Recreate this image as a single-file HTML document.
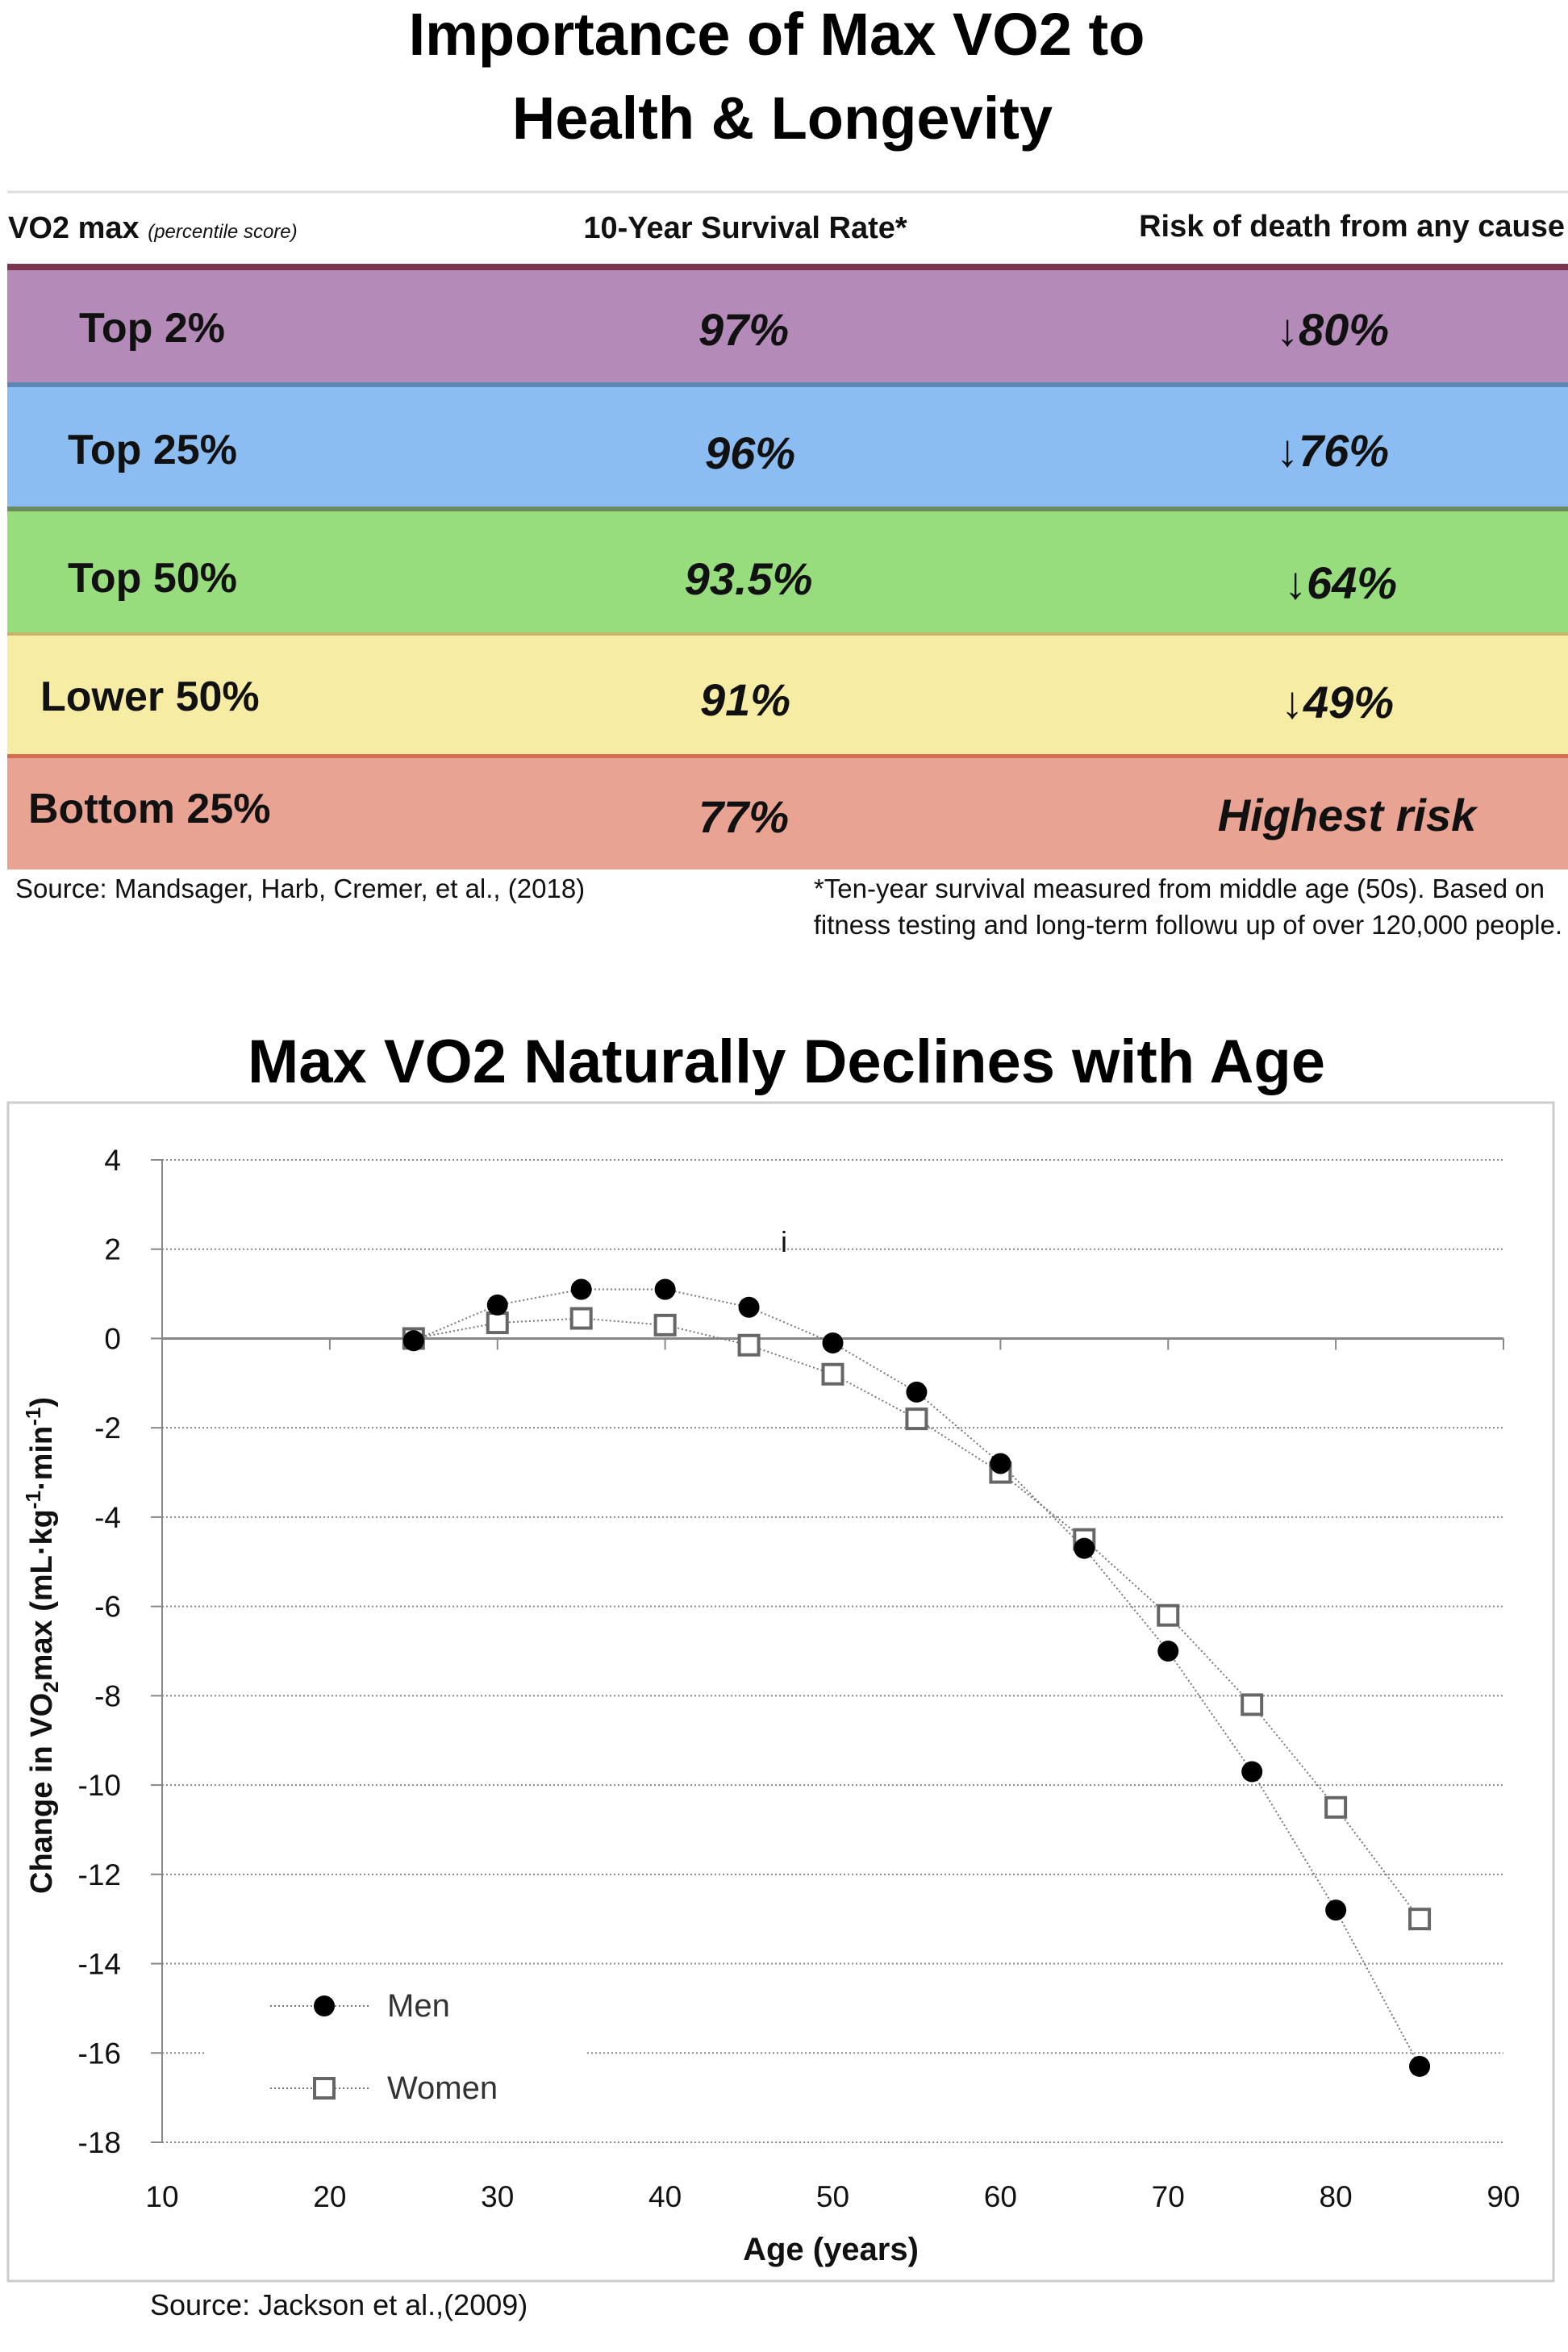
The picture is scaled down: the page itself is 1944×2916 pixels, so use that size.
<!DOCTYPE html>
<html><head><meta charset="utf-8"><style>
html,body{margin:0;padding:0;background:#fff;}
svg{display:block;font-family:"Liberation Sans",sans-serif;}
</style></head><body>
<svg id="page" width="1944" height="2916" viewBox="0 0 1944 2916" xmlns="http://www.w3.org/2000/svg">
<rect width="1944" height="2916" fill="#fff"/>
<g font-weight="bold" font-size="74" text-anchor="middle" fill="#000">
<text x="963" y="68">Importance of Max VO2 to</text>
<text x="970" y="172">Health &amp; Longevity</text>
</g>
<g>
<line x1="9" y1="238" x2="1944" y2="238" stroke="#ddd" stroke-width="3"/>
<g font-weight="bold" font-size="38" fill="#111">
<text x="10" y="295">VO2 max <tspan font-size="24" font-style="italic" font-weight="normal">(percentile score)</tspan></text>
<text x="924" y="295" text-anchor="middle">10-Year Survival Rate*</text>
<text x="1940" y="293" text-anchor="end">Risk of death from any cause</text>
</g>
<rect x="9" y="327" width="1935" height="8" fill="#7a3550"/>
<rect x="9" y="335" width="1935" height="141" fill="#b48ab8"/>
<rect x="9" y="474" width="1935" height="6" fill="#5a86b8"/>
<rect x="9" y="480" width="1935" height="148" fill="#8bbdf2"/>
<rect x="9" y="628" width="1935" height="6" fill="#6b8a60"/>
<rect x="9" y="634" width="1935" height="150" fill="#97dd7e"/>
<rect x="9" y="784" width="1935" height="4" fill="#c9b26a"/>
<rect x="9" y="788" width="1935" height="147" fill="#f6eca4"/>
<rect x="9" y="935" width="1935" height="5" fill="#d56a55"/>
<rect x="9" y="940" width="1935" height="138" fill="#e8a393"/>
<g font-weight="bold" font-size="52" fill="#111">
<text x="98" y="424">Top 2%</text>
<text x="84" y="575">Top 25%</text>
<text x="84" y="734">Top 50%</text>
<text x="50" y="881">Lower 50%</text>
<text x="35" y="1020">Bottom 25%</text>
</g>
<g font-weight="bold" font-style="italic" font-size="56" fill="#111" text-anchor="middle">
<text x="922" y="428">97%</text>
<text x="930" y="581">96%</text>
<text x="928" y="737">93.5%</text>
<text x="924" y="887">91%</text>
<text x="922" y="1032">77%</text>
<text x="1652" y="428">↓80%</text>
<text x="1652" y="578">↓76%</text>
<text x="1662" y="742">↓64%</text>
<text x="1658" y="890">↓49%</text>
<text x="1670" y="1030">Highest risk</text>
</g>
</g>
<g font-size="33" fill="#111">
<text x="19" y="1113">Source:  Mandsager, Harb, Cremer, et al., (2018)</text>
<text x="1915" y="1113" text-anchor="end">*Ten-year survival measured from middle age (50s).  Based on</text>
<text x="1937" y="1158" text-anchor="end">fitness testing and long-term followu up of over 120,000 people.</text>
</g>
<text x="975" y="1342" font-weight="bold" font-size="76" text-anchor="middle" fill="#000">Max VO2 Naturally Declines with Age</text>
<rect x="10" y="1367" width="1916" height="1461" fill="none" stroke="#ccc" stroke-width="3"/>
<g id="chart"></g>
<text x="186" y="2870" font-size="36" fill="#111">Source:  Jackson et al.,(2009)</text>
</svg>
<script>
const ages=[25,30,35,40,45,50,55,60,65,70,75,80,85];
const menValues=[-0.05,0.75,1.1,1.1,0.7,-0.1,-1.2,-2.8,-4.7,-7.0,-9.7,-12.8,-16.3];
const womenValues=[0,0.35,0.45,0.3,-0.15,-0.8,-1.8,-3.0,-4.5,-6.2,-8.2,-10.5,-13.0];
const yTicks=[4,2,0,-2,-4,-6,-8,-10,-12,-14,-16,-18];
const xTicks=[10,20,30,40,50,60,70,80,90];

const NS="http://www.w3.org/2000/svg";
const g=document.getElementById('chart');
const X0=201,X1=1864,Y0=1438,Y1=2656;
const xs=v=>X0+(v-10)/80*(X1-X0);
const ys=v=>Y0+(4-v)/22*(Y1-Y0);
function mk(tag,attrs,parent){const e=document.createElementNS(NS,tag);for(const k in attrs)e.setAttribute(k,attrs[k]);(parent||g).appendChild(e);return e;}

yTicks.forEach(t=>{
  const y=ys(t);
  if(t!==0){
    if(t===-16){
      const a=mk('line',{x1:X0,y1:y,x2:255,y2:y,stroke:'#888','stroke-width':2,'stroke-dasharray':'2 3'});
      
      
      const b=mk('line',{x1:728,y1:y,x2:X1,y2:y,stroke:'#888','stroke-width':2,'stroke-dasharray':'2 3'});
      
      
    } else {
      const l=mk('line',{x1:X0,y1:y,x2:X1,y2:y,stroke:'#888','stroke-width':2,'stroke-dasharray':'2 3'});
      
      
    }
  }
  const tk=mk('line',{x1:X0-14,y1:y,x2:X0,y2:y,stroke:'#888','stroke-width':2});
  
  
  const tx=mk('text',{x:150,y:y+13,'font-size':37,'text-anchor':'end',fill:'#111'});
  tx.textContent=t;
  
  
});
const ya=mk('line',{x1:X0,y1:Y0,x2:X0,y2:Y1,stroke:'#888','stroke-width':2});


const xa=mk('line',{x1:X0,y1:ys(0),x2:X1,y2:ys(0),stroke:'#888','stroke-width':3});


xTicks.forEach(t=>{
  const x=xs(t);
  if(t>10){const tk=mk('line',{x1:x,y1:ys(0),x2:x,y2:ys(0)+14,stroke:'#888','stroke-width':2});
  
  }
  const tx=mk('text',{x:x,y:2736,'font-size':37,'text-anchor':'middle',fill:'#111'});
  tx.textContent=t;
  
  
});
function series(vals,name,circle){
  const pts=ages.map((a,i)=>xs(a)+','+ys(vals[i])).join(' ');
  const pl=mk('polyline',{points:pts,fill:'none',stroke:'#777','stroke-width':2,'stroke-dasharray':'2 3'});
  
  
  ages.forEach((a,i)=>{
    let m;
    if(circle){m=mk('circle',{cx:xs(a),cy:ys(vals[i]),r:13,fill:'#000'});}
    else{m=mk('rect',{x:xs(a)-12,y:ys(vals[i])-12,width:24,height:24,fill:'#fff',stroke:'#666','stroke-width':4});}
    
    
  });
}
series(womenValues,'women',false);
series(menValues,'men',true);

const l1=mk('line',{x1:335,y1:2487,x2:460,y2:2487,stroke:'#777','stroke-width':2,'stroke-dasharray':'2 3'});


const c1=mk('circle',{cx:402,cy:2487,r:13,fill:'#000'});


const t1=mk('text',{x:480,y:2500,'font-size':40,fill:'#333'});
t1.textContent='Men';


const l2=mk('line',{x1:335,y1:2589,x2:460,y2:2589,stroke:'#777','stroke-width':2,'stroke-dasharray':'2 3'});


const r2=mk('rect',{x:390,y:2577,width:24,height:24,fill:'#fff',stroke:'#666','stroke-width':4});


const t2=mk('text',{x:480,y:2602,'font-size':40,fill:'#333'});
t2.textContent='Women';



const xt=mk('text',{x:1030,y:2802,'font-size':40,'font-weight':'bold','text-anchor':'middle',fill:'#111'});
xt.textContent='Age (years)';


const yt=mk('text',{x:0,y:0,'font-size':38,'font-weight':'bold','text-anchor':'middle',fill:'#111',transform:'translate(64,2040) rotate(-90)'});
yt.innerHTML='Change in VO<tspan font-size="26" dy="8">2</tspan><tspan dy="-8">max (mL·kg</tspan><tspan font-size="26" dy="-14">-1</tspan><tspan dy="14">·min</tspan><tspan font-size="26" dy="-14">-1</tspan><tspan dy="14">)</tspan>';


const ii=mk('text',{x:968,y:1552,'font-size':36,fill:'#111'});
ii.textContent='i';


</script>
</body></html>
